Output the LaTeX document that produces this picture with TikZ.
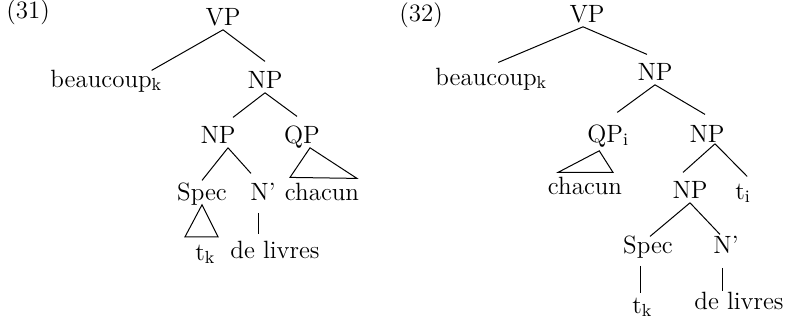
\documentclass[tikz,border=0pt]{standalone}
\usepackage{tikz}

\begin{document}
\begin{tikzpicture}[x=0.5pt,y=-0.5pt]
		\newcommand{\lblsize}{12.5pt} % size of the tree labels

		% set the style of the labels and branches
		\tikzset{
			lab/.style={
				inner sep=1pt,
				text height=8.6pt,
				text depth=1.2pt,
				font=\fontsize{\lblsize}{15pt}\selectfont
				},
			branch/.style={
				line width=0.5pt
				}
		}

		\useasboundingbox (0,0) rectangle (786,323);

		% labels of (31)
		\node[lab, anchor=base west] (exA) at (4,18) {(31)};
		\node[lab, anchor=base] (vpA) at (223,25) {VP};
		\node[lab, anchor=base west] (bcA) at (48,87) {beaucoup\textsubscript{k}};
		\node[lab, anchor=base] (npA) at (265,88) {NP};
		\node[lab, anchor=base] (npAa) at (218,143) {NP};
		\node[lab, anchor=base] (qpA) at (302,143) {QP};
		\node[lab, anchor=base] (spA) at (202,200) {Spec};
		\node[lab, anchor=base west] (nbA) at (248,200) {N'};
		\node[lab, anchor=base] (chA) at (322,200) {chacun};
		\node[lab, anchor=base west] (tkA) at (193,260) {t\textsubscript{k}};
		\node[lab, anchor=base] (dlA) at (275,258) {de livres};

		% branches of (31)
		\draw[branch] (vpA.south) -- ([shift={(-13,3)}]bcA.north east);
		\draw[branch] (vpA.south) -- ([shift={(0,-7)}]npA.north);
		\draw[branch] (npA.south) -- ([shift={(15,-6)}]npAa.north);
		\draw[branch] (npA.south) -- ([shift={(-5,-7)}]qpA.north);
		\draw[branch] ([shift={(10,0)}]npAa.south) -- (spA.north);
		\draw[branch] ([shift={(10,0)}]npAa.south) -- ([shift={(-12,-7)}]nbA.north);
		\draw[branch] ([shift={(-4,8)}]nbA.south) -- ([shift={(-4,-4)}]nbA.south |- dlA.north);
		% roofs
		\draw[branch] ([shift={(8,0)}]qpA.south) -- ([shift={(-32,-3)}]chA.north) -- ([shift={(35,-2)}]chA.north) -- cycle;
		\draw[branch] (spA.south) -- ([shift={(-17,32)}]spA.south) -- ([shift={(16,32)}]spA.south) -- cycle;

		% labels of (32)
		\node[lab, anchor=base west] (exB) at (397,21) {(32)};
		\node[lab, anchor=base] (vpB) at (587,22) {VP};
		\node[lab, anchor=base west] (bcB) at (433,85) {beaucoup\textsubscript{k}};
		\node[lab, anchor=base] (npB) at (655,80) {NP};
		\node[lab, anchor=base west] (qpB) at (585,142) {QP\textsubscript{i}};
		\node[lab, anchor=base] (npBa) at (707,142) {NP};
		\node[lab, anchor=base] (chB) at (585,194) {chacun};
		\node[lab, anchor=base] (npBb) at (690,198) {NP};
		\node[lab, anchor=base west] (tiB) at (733,199) {t\textsubscript{i}};
		\node[lab, anchor=base] (spB) at (648,253) {Spec};
		\node[lab, anchor=base west] (nbB) at (711,253) {N'};
		\node[lab, anchor=base west] (tkB) at (630,313) {t\textsubscript{k}};
		\node[lab, anchor=base] (dlB) at (739,309) {de livres};

		% branches of (32)
		\draw[branch] ([shift={(-4,0)}]vpB.south) -- ([shift={(7,-3)}]bcB.north);
		\draw[branch] ([shift={(-4,0)}]vpB.south) -- ([shift={(-8,-6)}]npB.north);
		\draw[branch] (npB.south) -- ([shift={(9,-10)}]qpB.north);
		\draw[branch] (npB.south) -- ([shift={(-2,-8)}]npBa.north);
		\draw[branch] ([shift={(8,-3)}]npBa.south) -- ([shift={(-7,-6)}]npBb.north);
		\draw[branch] ([shift={(8,-3)}]npBa.south) -- ([shift={(4,-3)}]tiB.north);
		\draw[branch] (npBb.south) -- ([shift={(2,3)}]spB.north);
		\draw[branch] (npBb.south) -- ([shift={(-6,1)}]nbB.north);
		\draw[branch] ([shift={(-8,8)}]spB.south) -- ([shift={(-8,0)}]spB.south |- tkB.north);
		\draw[branch] ([shift={(-3,10)}]nbB.south) -- ([shift={(-3,2)}]nbB.south |- dlB.north);
		% roof
		\draw[branch] ([shift={(-9,4)}]qpB.south) -- ([shift={(-27,-2)}]chB.north) -- ([shift={(28,-2)}]chB.north) -- cycle;

\end{tikzpicture}
\end{document}
